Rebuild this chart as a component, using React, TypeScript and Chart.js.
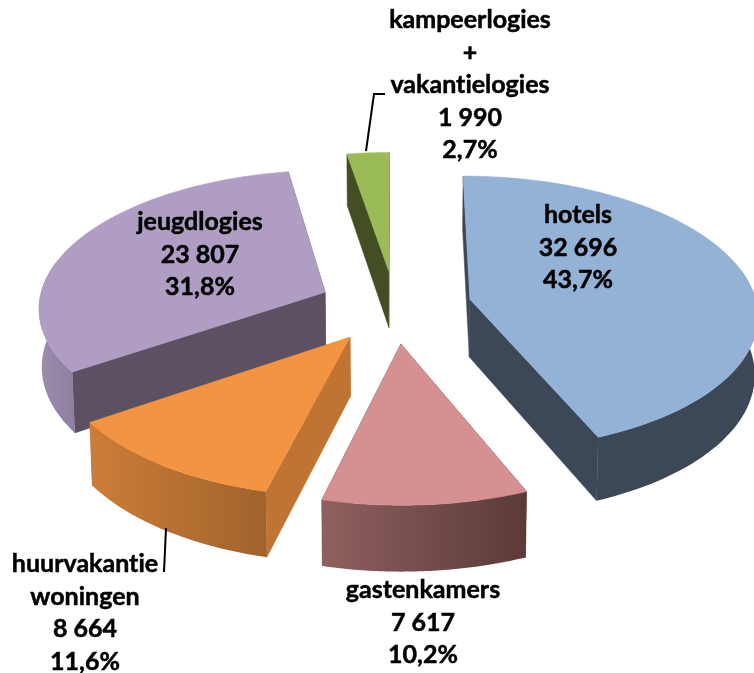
import React, { useEffect, useRef } from "react";
import { Chart, registerables } from "chart.js";

Chart.register(...registerables);

// Data, in the clockwise order of the pie, starting at 12 o'clock
const categories = ["hotels", "gastenkamers", "huurvakantiewoningen", "jeugdlogies", "kampeerlogies + vakantielogies"];
const visitors = [32696, 7617, 8664, 23807, 1990];
const valueLabels = ["32 696", "7 617", "8 664", "23 807", "1 990"];
const shareLabels = ["43,7%", "10,2%", "11,6%", "31,8%", "2,7%"];
const nameLines = [["hotels"], ["gastenkamers"], ["huurvakantie", "woningen"], ["jeugdlogies"], ["kampeerlogies", "+", "vakantielogies"]];

// Styles
const faceColors = ["#94b1d6", "#d59191", "#f39443", "#b09dc3", "#9bbb59"];
const cutColors = ["#3c4858", "#5a3a38", "#bf7433", "#5c5063", "#434f23"];
const rimLeft = ["#3c4858", "#8f6060", "#cc7d38", "#9c8cae", "#434f23"];
const rimRight = ["#3c4858", "#5a3a38", "#a1632c", "#8f80a3", "#434f23"];
const paintOrder = [4, 3, 0, 2, 1];
const labelCentres = [[578, 223], [423, 598], [85, 572], [200, 230], [470, 28]];
const lineStep = 32.5;
const leaders = [[[366, 151], [374, 94], [385, 94]], [[166, 528], [164, 572]]];

// 3D view of the pie plane
const RADIUS = 100;
const EXPLODE = 107; // library offset option: offset/4 in pixels
const view = { dx: 18, dy: -30, sx: 287, sy: 137, sz: 58, q: 0.1, shrink: 0.008 };

type P = [number, number];

const pie3d = {
  id: "pie3d",
  beforeDatasetDraw(chart: any) {
    const { ctx } = chart;
    const arcs = chart.getDatasetMeta(0).data;
    const project = (cx: number, cy: number, X: number, Y: number, Z: number): P => {
      const w = 1 + view.q * Y;
      const x = (view.sx * X) / w;
      return [cx + view.dx + x * (1 - view.shrink * Z), cy + view.dy + (-view.sy * Y + view.sz * Z) / w];
    };
    const fillPoly = (pts: P[], fill: any, seal = true) => {
      ctx.beginPath();
      pts.forEach((p, k) => (k ? ctx.lineTo(p[0], p[1]) : ctx.moveTo(p[0], p[1])));
      ctx.closePath();
      ctx.fillStyle = fill;
      ctx.fill();
      if (seal) {
        ctx.strokeStyle = fill;
        ctx.lineWidth = 0.5;
        ctx.stroke();
      }
    };
    for (const i of paintOrder) {
      const arc = arcs[i];
      const R = arc.outerRadius;
      const e = (arc.options.offset || 0) / 4 / R;
      const mid = (arc.startAngle + arc.endAngle) / 2;
      const ox = Math.cos(mid) * e;
      const oy = -Math.sin(mid) * e;
      const steps = 90;
      const at = (a: number, r: number, z: number) =>
        project(arc.x, arc.y, ox + Math.cos(a) * r, oy - Math.sin(a) * r, z);
      const top: P[] = [];
      const rimTop: P[] = [];
      const rimBottom: P[] = [];
      for (let s = 0; s <= steps; s++) {
        const a = arc.startAngle + ((arc.endAngle - arc.startAngle) * s) / steps;
        top.push(at(a, 1, 0));
        if (Math.sin(a) > -0.25) {
          rimTop.push(at(a, 1, 0));
          rimBottom.push(at(a, 1, 1));
        }
      }
      const first = arc.startAngle;
      const last = arc.endAngle;
      const tipTop = at(0, 0, 0);
      const tipBottom = at(0, 0, 1);
      fillPoly([tipTop, at(first, 1, 0), at(first, 1, 1), tipBottom], cutColors[i]);
      fillPoly([tipTop, at(last, 1, 0), at(last, 1, 1), tipBottom], cutColors[i]);
      if (rimTop.length > 1) {
        const xs = rimTop.map((p) => p[0]);
        const g = ctx.createLinearGradient(Math.min(...xs), 0, Math.max(...xs), 0);
        g.addColorStop(0, rimLeft[i]);
        g.addColorStop(1, rimRight[i]);
        fillPoly([...rimTop, ...rimBottom.slice().reverse()], g, false);
      }
      fillPoly([tipTop, ...top], arc.options.backgroundColor);
    }
    return false;
  },
  afterDraw(chart: any) {
    const { ctx } = chart;
    ctx.save();
    ctx.strokeStyle = "#000";
    ctx.lineWidth = 2;
    for (const line of leaders) {
      ctx.beginPath();
      line.forEach((p, k) => (k ? ctx.lineTo(p[0], p[1]) : ctx.moveTo(p[0], p[1])));
      ctx.stroke();
    }
    ctx.fillStyle = "#000";
    ctx.lineWidth = 0.5;
    ctx.lineJoin = "round";
    ctx.font = "bold 25px Lato";
    ctx.letterSpacing = "0.01px";
    ctx.textAlign = "center";
    ctx.textBaseline = "alphabetic";
    categories.forEach((_, i) => {
      const lines = [...nameLines[i], valueLabels[i], shareLabels[i]];
      lines.forEach((t, k) => {
        const y = labelCentres[i][1] + k * lineStep;
        ctx.fillText(t, labelCentres[i][0], y);
        ctx.strokeText(t, labelCentres[i][0], y);
      });
    });
    ctx.restore();
  },
};

export default function App() {
  const ref = useRef<HTMLCanvasElement>(null);
  useEffect(() => {
    document.body.style.margin = "0";
    const chart = new Chart(ref.current as HTMLCanvasElement, {
      type: "pie",
      data: {
        labels: categories,
        datasets: [
          {
            data: visitors,
            backgroundColor: faceColors,
            borderWidth: 0,
            offset: EXPLODE,
          },
        ],
      },
      options: {
        responsive: false,
        animation: false,
        radius: RADIUS,
        layout: { padding: 0 },
        plugins: { legend: { display: false }, tooltip: { enabled: false }, title: { display: false } },
      },
      plugins: [pie3d],
    } as any);
    return () => chart.destroy();
  }, []);
  return <canvas ref={ref} width={754} height={673} style={{ display: "block" }} />;
}
